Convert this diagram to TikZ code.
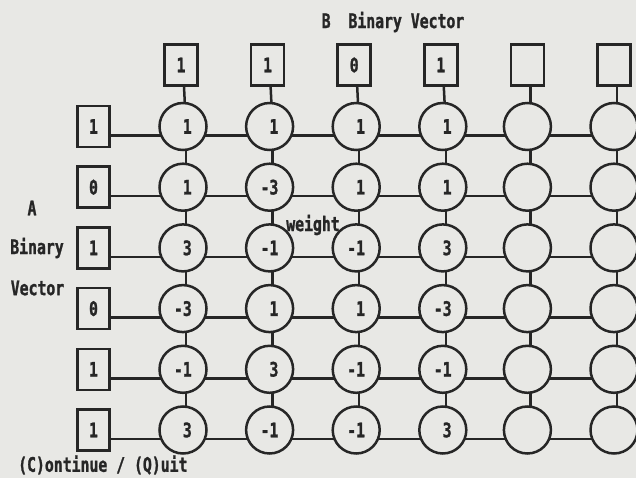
\documentclass[tikz,border=0pt]{standalone}
\usepackage{fontspec}
\newfontfamily\pix[FakeStretch=0.74,FakeBold=1.2]{DejaVu Sans Mono}
\usetikzlibrary{backgrounds}
\definecolor{bg}{RGB}{232,232,229}
\definecolor{ink}{RGB}{38,38,38}
\pgfdeclarelayer{wires}
\pgfsetlayers{background,wires,main}
\tikzset{
  pixfont/.style={font=\pix\bfseries\fontsize{20}{22}\selectfont, text=ink},
  cell/.style={circle, draw=ink, line width=2.5pt, fill=bg, minimum size=47pt, inner sep=0pt, pixfont},
  vbox/.style={rectangle, draw=ink, line width=2.5pt, fill=bg, minimum width=32pt, minimum height=41pt, inner sep=0pt, pixfont},
  lbl/.style={inner sep=0pt, pixfont},
  wire/.style={draw=ink, line width=2.5pt},
}
\begin{document}
\begin{tikzpicture}[x=1pt, y=-1pt]
\begin{scope}[on background layer]
\fill[bg] (0,0) rectangle (636,478);
\end{scope}
\useasboundingbox (0,0) rectangle (636,478);
% top boxes (B vector)
\foreach \v [count=\i] in {1,1,0,1,{},{}} {
  \node[vbox, minimum width=33pt] (T\i) at ({181+86.6*(\i-1)}, 65) {\v};
}
% left boxes (A vector)
\foreach \v [count=\j] in {1,0,1,0,1,1} {
  \node[vbox] (L\j) at (93.5, {126.5+60.7*(\j-1)}) {\v};
}
% weight cells
\foreach \rowvals [count=\j] in {
  {1,1,1,1,x,x},
  {1,-3,1,1,x,x},
  {3,-1,-1,3,x,x},
  {-3,1,1,-3,x,x},
  {-1,3,-1,-1,x,x},
  {3,-1,-1,3,x,x}} {
  \foreach \w [count=\i] in \rowvals {
    \ifnum\i<5
      \node[cell] (C\j\i) at ({181+86.6*(\i-1)+2}, {126.5+60.7*(\j-1)}) {};
      \node[lbl, anchor=east] at ({181+86.6*(\i-1)+11}, {126.5+60.7*(\j-1)}) {\w};
    \else
      \node[cell] (C\j\i) at ({181+86.6*(\i-1)}, {126.5+60.7*(\j-1)}) {};
    \fi
  }
}
% connectors
\begin{pgfonlayer}{wires}
\foreach \j in {1,...,6} {
  \draw[wire] ([yshift=-9pt]L\j.east) -- ([yshift=-9pt]C\j1.center);
  \foreach \i/\k in {1/2,2/3,3/4,4/5,5/6} {
    \draw[wire] ([yshift=-9pt]C\j\i.center) -- ([yshift=-9pt]C\j\k.center);
  }
}
\foreach \i in {1,...,6} {
  \draw[wire] ([xshift=3pt]T\i.south) -- ([xshift=3pt]C1\i.center);
  \foreach \j/\k in {1/2,2/3,3/4,4/5,5/6} {
    \draw[wire] ([xshift=3pt]C\j\i.center) -- ([xshift=3pt]C\k\i.center);
  }
}
\end{pgfonlayer}
% labels
\node[lbl] (title) at (393, 22) {B\ \ Binary Vector};
\node[lbl] (la) at (32, 208) {A};
\node[lbl] (lb) at (37, 248) {Binary};
\node[lbl] (lv) at (37.5, 288) {Vector};
\node[lbl, anchor=west] (cq) at (18, 465) {(C)ontinue / (Q)uit};
\node[lbl] (wt) at (313, 225) {weight};
\end{tikzpicture}
\end{document}
